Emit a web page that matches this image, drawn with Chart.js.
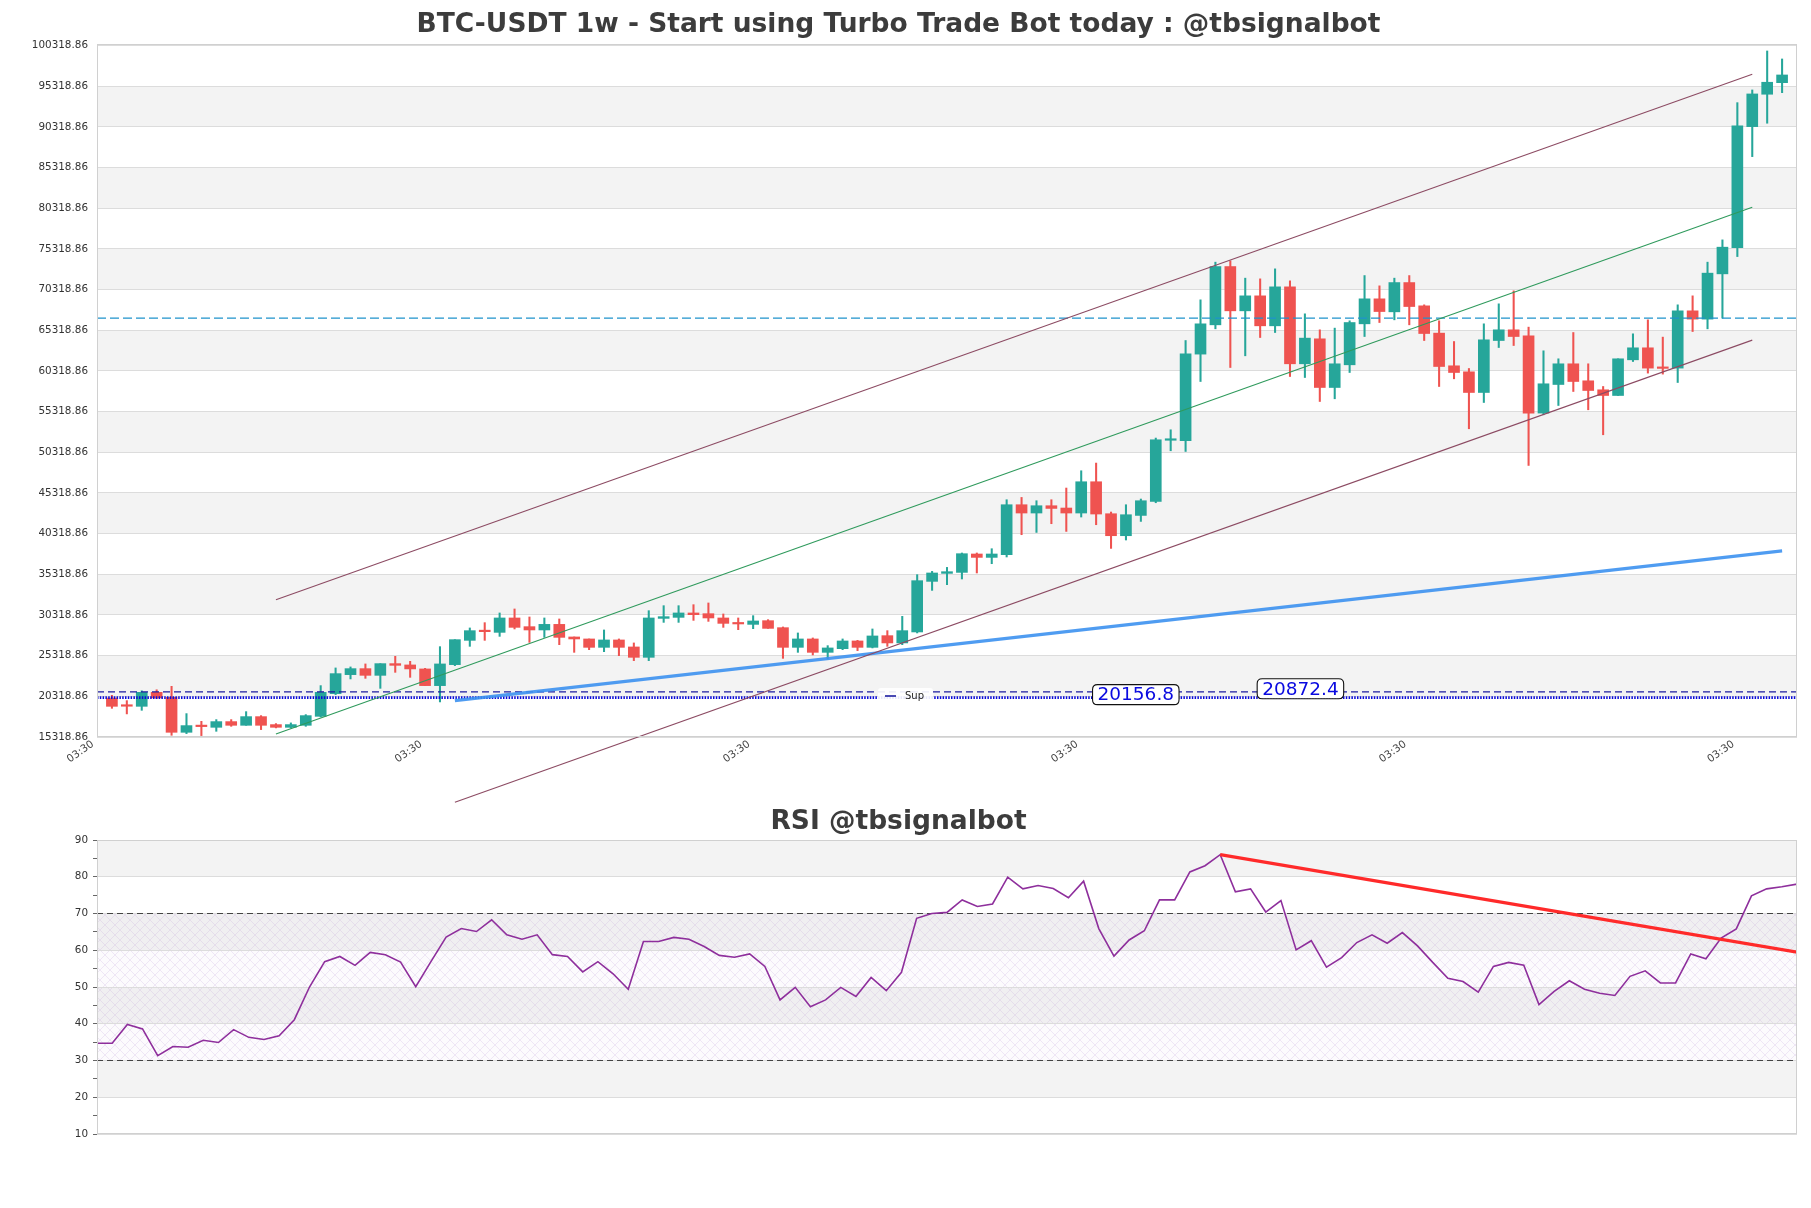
<!DOCTYPE html>
<html><head><meta charset="utf-8">
<script src="https://cdn.jsdelivr.net/npm/chart.js@4.4.1/dist/chart.umd.min.js"></script>
<style>
html,body{margin:0;padding:0;background:#fff;}
#wrap{position:relative;width:1811px;height:1208px;overflow:hidden;background:#fff;}
#c1{position:absolute;left:0;top:0;width:1811px;height:815px;}
#c2{position:absolute;left:0;top:790px;width:1811px;height:418px;}
</style></head><body>
<div id="wrap"><canvas id="c1" width="1811" height="815"></canvas><canvas id="c2" width="1811" height="418"></canvas></div>
<script>
// ---------- DATA ----------
const opens = [20122,19160,19090,20810,20195,15896,16756,16510,17210,16756,
17823,16842,16510,16756,17860,20650,22984,23721,22898,24337,
24177,23685,21633,24213,27198,28353,28181,29950,28881,28475,
29163,27616,27370,26339,27247,26388,25111,29900,30024,30565,
30478,29950,29373,29163,29618,28758,26339,27370,25724,26179,
27124,26339,27775,26880,28230,34448,35431,35552,37814,37396,
37727,43869,42849,43746,43463,42849,46694,42763,40060,42554,
44274,51793,51731,62382,65982,73144,67702,69544,65859,70650,
61191,64262,58279,61068,66105,69176,67579,71178,68316,64962,
60945,60208,57665,64053,65368,64631,55134,58648,61191,59102,
57996,57296,61682,63156,60699,60662,67702,66682,72248,75478,
90343,94324,95748];
const closes = [19090,19100,20810,20122,15896,16719,16596,17210,16756,17823,
16756,16510,16842,17946,20810,23107,23721,22898,24337,24128,
23685,21633,24300,27284,28390,28267,29950,28795,28475,29163,
27566,27370,26339,27247,26339,25111,29950,30110,30565,30355,
29950,29286,29213,29581,28672,26339,27370,25724,26265,27124,
26339,27739,26880,28390,34534,35480,35638,37851,37396,37814,
43869,42849,43746,43414,42849,46694,42726,40060,42640,44360,
51854,51854,62419,66105,73144,67702,69544,65859,70650,61191,
64348,58279,61191,66265,69176,67615,71178,68230,64913,60859,
60122,57665,64139,65368,64545,55134,58734,61191,59016,57910,
57296,61805,63156,60662,60626,67702,66682,72334,75527,90429,
94361,95798,96694];
const highs = [20441,19790,20999,21121,21548,18193,17247,17456,17456,18437,
17946,16965,17051,18070,21635,23807,23930,24300,24337,25233,
24620,23758,26424,27284,28722,29373,30565,31056,30073,29950,
29827,27616,27370,28475,27370,26880,30846,31461,31461,31584,
31793,30441,29950,30233,29741,28844,28107,27493,26548,27370,
27198,28598,28390,30147,35271,35676,36166,37937,37937,38463,
44483,44766,44360,44483,45921,48044,48990,42972,43869,44569,
52063,53080,64053,69053,73684,73844,71718,71632,72861,71387,
67333,65368,65576,66474,72038,70773,71718,72038,68439,66474,
63931,60613,66105,68562,70159,65699,62788,61805,65036,61191,
58402,61805,64876,66596,64470,68439,69544,73684,76424,93291,
94852,99643,98660];
const lows = [18844,18157,18598,20035,15527,15736,15490,16019,16633,16756,
16228,16436,16436,16633,17786,20527,22456,22529,21300,23267,
22652,21633,19630,24090,26462,27198,27690,28598,26952,27566,
26669,25724,26055,25810,25319,24705,24705,29409,29409,29654,
29531,28795,28512,28635,28672,24988,25724,25405,24914,26055,
25931,26265,26462,26669,28107,33341,34041,34741,35480,36620,
37445,40183,40466,41535,40589,42358,41412,38501,39533,41818,
44114,50502,50416,59016,65491,60736,62174,64422,65036,59630,
59507,56559,56891,60122,64545,66265,66596,65982,64053,58402,
59348,53206,56436,63193,63439,48698,54925,56068,57788,55540,
52468,57296,61473,60048,59925,58893,65159,65491,66805,74372,
86657,90761,94520];
const rsi = [34.7,34.7,39.8,38.6,31.3,33.8,33.6,35.5,34.9,38.4,36.3,35.7,36.7,
41.1,50.0,56.9,58.3,55.9,59.4,58.8,56.8,50.1,56.9,
63.6,65.9,65.1,68.3,64.2,63.0,64.2,58.8,58.3,54.1,56.9,53.6,49.4,
62.4,62.4,63.5,63.0,61.0,58.6,58.1,59.0,55.6,46.5,49.9,44.6,46.5,49.9,47.4,52.6,49.0,54.0,68.7,70.0,70.3,
73.7,71.9,72.6,79.9,76.7,77.6,76.8,74.3,78.8,65.9,58.4,62.8,65.3,73.7,73.7,81.3,83.0,86.0,
75.9,76.7,70.4,73.5,60.1,62.6,55.4,58.0,62.1,64.2,61.9,64.8,61.2,56.7,52.4,51.5,48.6,55.6,56.7,55.9,
45.2,48.8,51.7,49.4,48.3,47.7,52.9,54.4,51.1,51.1,59.0,57.7,63.3,65.8,74.8,76.7,77.3,78.0];

const upperChannel = [[11, 32198], [110, 96780]];
const midChannel   = [[11, 15700], [110, 80441]];
const lowerChannel = [[23, 7297],  [110, 64102]];
const supportTrend = [[23, 19780], [112, 38200]];
const rsiTrend     = [[74, 86.0],  [112, 59.5]];
const cyanLevel = 66805;
const supLevel = 20156.8;
const resLevel = 20872.4;
const levelLabels = [[68.66, 20156.8, '20156.8'], [79.7, 20872.4, '20872.4']];

const xTickIdx = [-1, 21, 43, 65, 87, 109];
const xTickLabels = ['03:30','03:30','03:30','03:30','03:30','03:30'];
const yTicks = [15318.86,20318.86,25318.86,30318.86,35318.86,40318.86,45318.86,50318.86,55318.86,
  60318.86,65318.86,70318.86,75318.86,80318.86,85318.86,90318.86,95318.86,100318.86];
const rsiTicks = [10,15,20,25,30,35,40,45,50,55,60,65,70,75,80,85,90];
const rsiGrid = [10,20,30,40,50,60,70,80,90];

const titleMain = 'BTC-USDT 1w - Start using Turbo Trade Bot today : @tbsignalbot';
const titleRsi = 'RSI @tbsignalbot';

// ---------- HELPERS ----------
const UP = '#26a69a', DOWN = '#ef5350';
const FONT = "'DejaVu Sans', sans-serif";
const N = opens.length;
const candleColors = opens.map((o,i)=> closes[i] >= o ? UP : DOWN);
const pts = arr => arr.map(p=>({x:p[0], y:p[1]}));
const hline = (v, x0, x1) => [{x:x0,y:v},{x:x1,y:v}];

Chart.defaults.font.family = FONT;
Chart.defaults.animation = false;

function lineDs(data, color, width, extra){
  return Object.assign({type:'line', data, borderColor:color, borderWidth:width,
    pointRadius:0, fill:false, tension:0, order:0}, extra||{});
}

function roundRect(ctx,x,y,w,h,r){
  ctx.beginPath();
  ctx.moveTo(x+r,y); ctx.lineTo(x+w-r,y); ctx.quadraticCurveTo(x+w,y,x+w,y+r);
  ctx.lineTo(x+w,y+h-r); ctx.quadraticCurveTo(x+w,y+h,x+w-r,y+h);
  ctx.lineTo(x+r,y+h); ctx.quadraticCurveTo(x,y+h,x,y+h-r);
  ctx.lineTo(x,y+r); ctx.quadraticCurveTo(x,y,x+r,y); ctx.closePath();
}

// ---------- MAIN CHART ----------
const bands1 = {
  id:'bands1',
  beforeDraw(chart){
    const {ctx, chartArea:a, scales:{y}} = chart;
    ctx.save();
    for (let k=0;k<yTicks.length-1;k++){
      if (k%2===1){
        const y1=y.getPixelForValue(yTicks[k]), y2=y.getPixelForValue(yTicks[k+1]);
        ctx.fillStyle='#f3f3f3';
        ctx.fillRect(a.left, y2, a.right-a.left, y1-y2);
      }
    }
    ctx.restore();
  },
  afterDatasetsDraw(chart){
    const {ctx, chartArea:a, scales:{x,y}} = chart;
    ctx.save();
    ctx.strokeStyle='#d0d0d0'; ctx.lineWidth=1;
    ctx.strokeRect(a.left+0.5, a.top+0.5, a.right-a.left-1, a.bottom-a.top-1);
    // legend "Sup"
    const lx = a.left + 781, ly = a.bottom - 41;
    ctx.fillStyle='rgba(255,255,255,0.9)';
    roundRect(ctx, lx, ly-8, 55, 16, 3); ctx.fill();
    ctx.strokeStyle='#1c1ca0'; ctx.lineWidth=1.6;
    ctx.beginPath(); ctx.moveTo(lx+7, ly); ctx.lineTo(lx+18, ly); ctx.stroke();
    ctx.fillStyle='#222'; ctx.font="10px "+FONT; ctx.textBaseline='middle'; ctx.textAlign='left';
    ctx.fillText('Sup', lx+27, ly+0.5);
    // level labels
    ctx.font="18.5px "+FONT;
    levelLabels.forEach(([xi, v, txt])=>{
      const cx = x.getPixelForValue(xi), cy = y.getPixelForValue(v) - 3;
      const w = ctx.measureText(txt).width + 10, h = 20;
      ctx.fillStyle='#fff'; roundRect(ctx, cx-w/2, cy-h/2, w, h, 5); ctx.fill();
      ctx.strokeStyle='#111'; ctx.lineWidth=1.1; ctx.stroke();
      ctx.fillStyle='#0a0ae0'; ctx.textAlign='center'; ctx.textBaseline='middle';
      ctx.fillText(txt, cx, cy+1);
    });
    ctx.restore();
  }
};

const bodies = opens.map((o,i)=>({x:i, y:[o, closes[i]]}));
const wicks = lows.map((l,i)=>({x:i, y:[l, highs[i]]}));

new Chart(document.getElementById('c1'), {
  type:'bar',
  data:{
    datasets:[
      lineDs(pts(upperChannel), '#8c4b63', 1.1),
      lineDs(pts(midChannel), '#2f9a5c', 1.1),
      lineDs(pts(lowerChannel), '#8c4b63', 1.1, {clip:false}),
      lineDs(pts(supportTrend), 'rgba(60,145,240,0.9)', 3.2),
      lineDs(hline(cyanLevel, -1, 113), '#1f93cc', 1.4, {borderDash:[9,4]}),
      lineDs(hline(resLevel, -1, 113), '#1c1ca0', 1.3, {borderDash:[7,4]}),
      lineDs(hline(supLevel, -1, 113), '#0a0ad8', 2.8, {borderDash:[1.5,1.3]}),
      {type:'bar', data:bodies, backgroundColor:candleColors, borderWidth:0,
        barThickness:11, minBarLength:1.5, grouped:false, order:1},
      {type:'bar', data:wicks, backgroundColor:candleColors, borderWidth:0,
        barThickness:1.4, grouped:false, order:2}
    ]
  },
  options:{
    responsive:false, devicePixelRatio:1, animation:false,
    layout:{padding:{left:0,right:14,top:0,bottom:0}},
    plugins:{
      legend:{display:false}, tooltip:{enabled:false},
      title:{display:true, text:titleMain, color:'#3c3c3c',
        font:{size:26.5, weight:'bold', family:FONT}, padding:{top:9.5,bottom:2.7}}
    },
    scales:{
      x:{type:'linear', min:-1, max:113, offset:false,
        grid:{display:false}, border:{display:false},
        afterBuildTicks:s=>{ s.ticks = xTickIdx.map(v=>({value:v})); },
        afterFit:s=>{ s.height = 78; },
        ticks:{autoSkip:false, maxRotation:35, minRotation:35, color:'#444',
          font:{size:10.5, family:FONT}, padding:-7, labelOffset:-4,
          callback:(v,i)=>xTickLabels[i]}
      },
      y:{type:'linear', min:15318.86, max:100500, beginAtZero:false,
        grid:{color:'#dcdcdc', lineWidth:1, drawTicks:false}, border:{display:false},
        afterBuildTicks:s=>{ s.ticks = yTicks.map(v=>({value:v})); },
        afterFit:s=>{ s.width = 97; },
        ticks:{color:'#333', font:{size:10.4, family:FONT}, padding:9,
          callback:v=>Number(v).toFixed(2)}
      }
    }
  },
  plugins:[bands1]
});

// ---------- RSI CHART ----------
function makeHatch(ctx){
  const c=document.createElement('canvas'); c.width=10; c.height=10;
  const g=c.getContext('2d');
  g.strokeStyle='rgba(185,150,215,0.25)'; g.lineWidth=0.8;
  g.beginPath(); g.moveTo(0,0); g.lineTo(10,10); g.moveTo(10,0); g.lineTo(0,10); g.stroke();
  return ctx.createPattern(c,'repeat');
}
const bands2 = {
  id:'bands2',
  beforeDraw(chart){
    const {ctx, chartArea:a, scales:{y}} = chart;
    ctx.save();
    for (let k=0;k<rsiGrid.length-1;k++){
      if (k%2===1){
        const y1=y.getPixelForValue(rsiGrid[k]), y2=y.getPixelForValue(rsiGrid[k+1]);
        ctx.fillStyle='#f3f3f3';
        ctx.fillRect(a.left, y2, a.right-a.left, y1-y2);
      }
    }
    const t=y.getPixelForValue(70), b=y.getPixelForValue(30);
    ctx.fillStyle='rgba(200,180,225,0.06)';
    ctx.fillRect(a.left, t, a.right-a.left, b-t);
    ctx.fillStyle=makeHatch(ctx);
    ctx.fillRect(a.left, t, a.right-a.left, b-t);
    ctx.restore();
  },
  afterDatasetsDraw(chart){
    const {ctx, chartArea:a} = chart;
    ctx.save();
    ctx.strokeStyle='#d0d0d0'; ctx.lineWidth=1;
    ctx.strokeRect(a.left+0.5, a.top+0.5, a.right-a.left-1, a.bottom-a.top-1);
    ctx.restore();
  }
};

new Chart(document.getElementById('c2'), {
  type:'line',
  data:{
    datasets:[
      lineDs(pts(rsiTrend), '#ff2a2a', 3.2),
      lineDs(rsi.map((v,i)=>({x:i,y:v})), '#8e2f9c', 1.6),
      lineDs(hline(70, 0, N-1), '#444', 1.2, {borderDash:[6,4], order:1}),
      lineDs(hline(30, 0, N-1), '#444', 1.2, {borderDash:[6,4], order:1})
    ]
  },
  options:{
    responsive:false, devicePixelRatio:1, animation:false,
    layout:{padding:{left:0,right:14,top:0,bottom:74}},
    plugins:{
      legend:{display:false}, tooltip:{enabled:false},
      title:{display:true, text:titleRsi, color:'#3c3c3c',
        font:{size:26.5, weight:'bold', family:FONT}, padding:{top:16.3,bottom:1.9}}
    },
    scales:{
      x:{type:'linear', min:0, max:N-1, display:false},
      y:{type:'linear', min:10, max:90,
        grid:{color:c=> (c.tick && c.tick.value%10===0) ? '#dcdcdc' : 'rgba(0,0,0,0)',
          tickColor:'#666', tickLength:4, drawTicks:true},
        border:{display:false},
        afterBuildTicks:s=>{ s.ticks = rsiTicks.map(v=>({value:v})); },
        afterFit:s=>{ s.width = 97; },
        ticks:{color:'#333', font:{size:10.4, family:FONT}, padding:5,
          callback:v=> (v%10===0 ? String(v) : '')}
      }
    }
  },
  plugins:[bands2]
});
</script>
</body></html>
